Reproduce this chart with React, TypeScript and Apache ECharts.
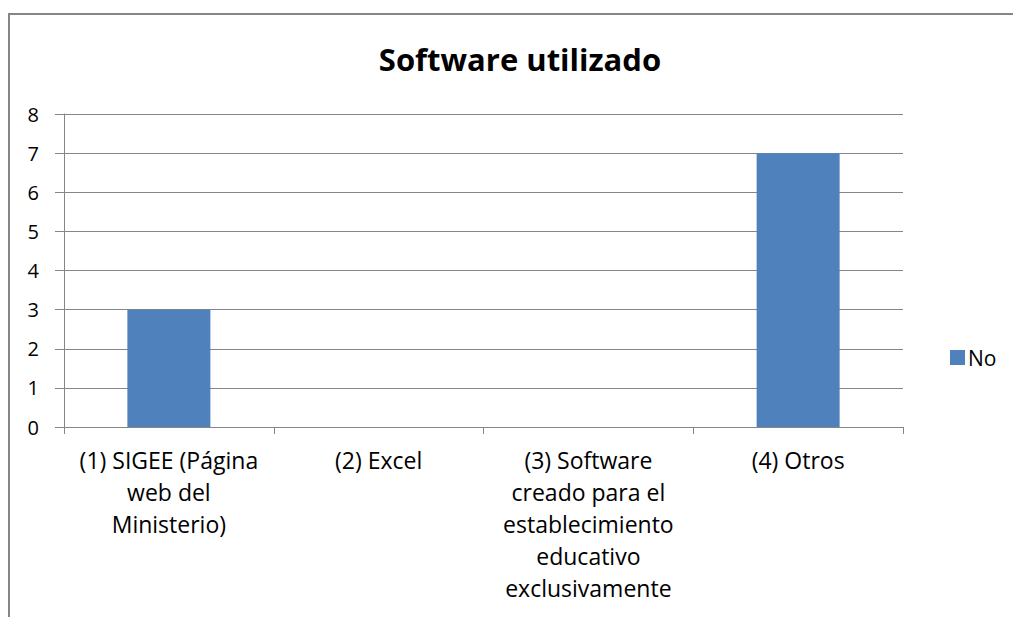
import React, { useEffect, useRef } from "react";
import * as echarts from "echarts";

const categories = [
  "(1) SIGEE (Página\nweb del\nMinisterio)",
  "(2) Excel",
  "(3) Software\ncreado para el\nestablecimiento\neducativo\nexclusivamente",
  "(4) Otros",
];
const seriesName = "No";
const values = [3, 0, 0, 7];
const titleText = "Software utilizado";

const FONT = "'Open Sans', sans-serif";

export default function App() {
  const ref = useRef<HTMLDivElement>(null);
  useEffect(() => {
    document.body.style.margin = "0";
    const chart = echarts.init(ref.current!, null, { renderer: "svg" });
    chart.setOption({
      animation: false,
      backgroundColor: "#ffffff",
      title: {
        text: titleText,
        left: 515,
        top: 38,
        textAlign: "center",
        textStyle: { fontFamily: FONT, fontSize: 31, fontWeight: "bold", color: "#000" },
      },
      graphic: [
        {
          type: "rect",
          shape: { x: 9, y: 14, width: 1010, height: 620 },
          style: { fill: "none", stroke: "#868686", lineWidth: 2 },
          silent: true,
        },
      ],
      legend: {
        orient: "vertical",
        left: 945,
        top: 342,
        itemWidth: 15,
        itemHeight: 15,
        itemGap: 5,
        icon: "rect",
        textStyle: { fontFamily: FONT, fontSize: 21, color: "#000", padding: [0, 0, 0, -2] },
        data: [seriesName],
      },
      grid: { left: 64, right: 110, top: 114, bottom: 190, containLabel: false },
      xAxis: {
        type: "category",
        data: categories,
        axisLine: { lineStyle: { color: "#868686", width: 1 } },
        axisTick: { show: true, length: 7, lineStyle: { color: "#868686" } },
        axisLabel: {
          fontFamily: FONT,
          fontSize: 23,
          color: "#000",
          lineHeight: 32,
          margin: 17,
          interval: 0,
        },
      },
      yAxis: {
        type: "value",
        min: 0,
        max: 8,
        interval: 1,
        axisLine: { show: true, lineStyle: { color: "#868686", width: 1 } },
        axisTick: { show: true, length: 9, lineStyle: { color: "#868686" } },
        splitLine: { lineStyle: { color: "#868686", width: 1 } },
        axisLabel: { fontFamily: FONT, fontSize: 20, color: "#000", margin: 25 },
      },
      series: [
        {
          name: seriesName,
          type: "bar",
          data: values,
          barWidth: 83,
          itemStyle: { color: "#4F81BD" },
        },
      ],
    });
    return () => chart.dispose();
  }, []);
  return <div ref={ref} style={{ width: 1013, height: 617 }} />;
}
